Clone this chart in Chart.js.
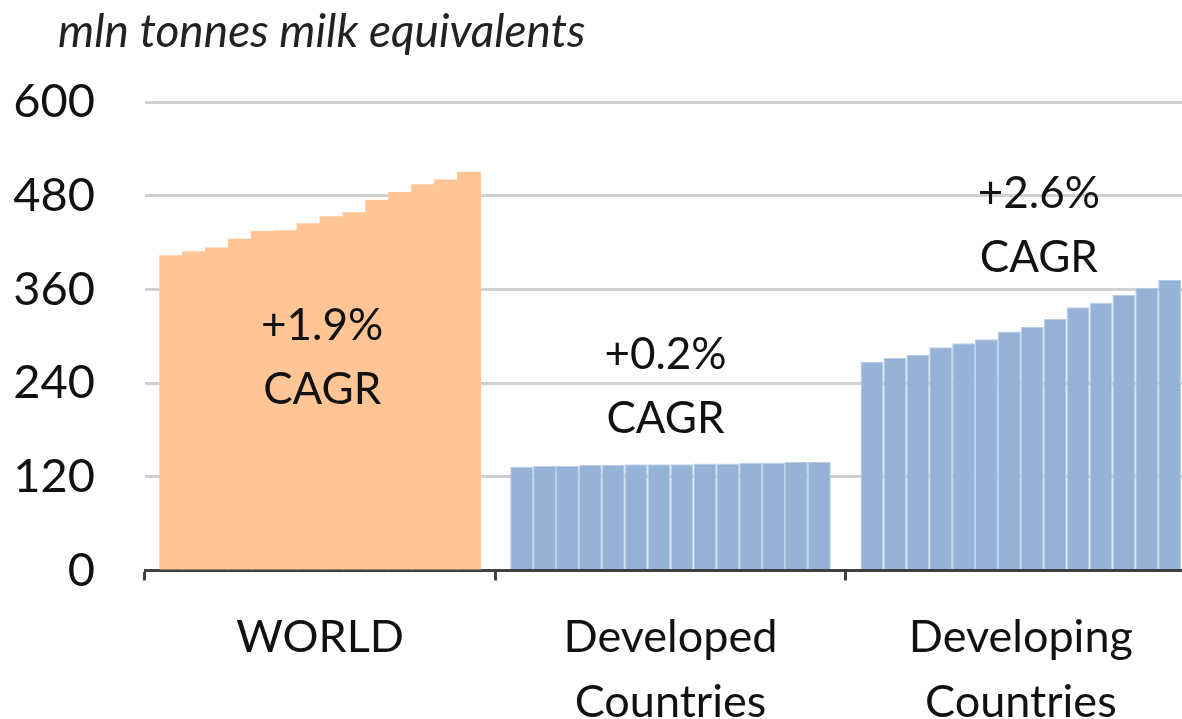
<!DOCTYPE html>
<html>
<head>
<meta charset="utf-8">
<script src="https://cdn.jsdelivr.net/npm/chart.js@4"></script>
<style>
  html, body { margin: 0; padding: 0; background: #fff; overflow: hidden; }
  #wrap { width: 1182px; height: 719px; overflow: hidden; position: relative; }
  #box { width: 1196px; height: 759px; }
</style>
</head>
<body>
<div id="wrap"><div id="box"><canvas id="milkChart"></canvas></div></div>
<script>
// groups on the x axis
const groups = ["WORLD", ["Developed", "Countries"], ["Developing", "Countries"]];
// one bar per year inside each group
const years = ["2014", "2015", "2016", "2017", "2018", "2019", "2020", "2021", "2022", "2023", "2024", "2025", "2026", "2027"];
const world = [403, 408, 413, 424, 434, 435, 444, 453, 458, 474, 484, 494, 500, 510];
const developed = [133, 134, 134, 135, 135, 136, 136, 136, 137, 137, 138, 138, 139, 139];
const developing = [267, 272, 276, 286, 291, 296, 306, 312, 322, 337, 343, 353, 362, 372];
const yTicks = [0, 120, 240, 360, 480, 600];
const cagrText = ["+1.9%", "+0.2%", "+2.6%"];

const FONT = "Lato, 'Open Sans', sans-serif";

// growth labels, placed with the y scale
const cagrPlugin = {
  id: "cagr",
  afterDatasetsDraw(chart, args, opts) {
    const c = chart.ctx;
    const xs = chart.scales.x, ys = chart.scales.y;
    c.save();
    c.font = "44px " + FONT;
    c.fillStyle = "#111";
    c.textAlign = "center";
    c.textBaseline = "middle";
    cagrText.forEach(function (t, i) {
      const x = xs.getPixelForValue(i) + opts.dx[i];
      c.fillText(t, x, ys.getPixelForValue(opts.at[i]));
      c.fillText("CAGR", x, ys.getPixelForValue(opts.at[i]) + 64);
    });
    c.restore();
  },
};

// unit caption top left
const unitPlugin = {
  id: "unit",
  afterDraw(chart) {
    const c = chart.ctx;
    c.save();
    c.font = "italic 46px " + FONT;
    c.fillStyle = "#222";
    c.textBaseline = "alphabetic";
    c.fillText("mln tonnes milk equivalents", 58, 47);
    c.restore();
  },
};

const datasets = years.map(function (y, i) {
  return {
    label: y,
    data: [world[i], developed[i], developing[i]],
    backgroundColor: ["#FFC594", "#95B3D7", "#95B3D7"],
    borderColor: ["#FFC594", "#B8CDE6", "#B8CDE6"],
    borderWidth: function (c) {
      return c.dataIndex === 0 ? 0 : { left: 1, right: 1, top: 1, bottom: 0 };
    },
    borderSkipped: false,
    inflateAmount: function (c) { return c.dataIndex === 0 ? 0.6 : 0; },
    categoryPercentage: 0.915,
    barPercentage: 1.0,
  };
});

const ctx = document.querySelector("#milkChart").getContext("2d");
const myChart = new Chart(ctx, {
  type: "bar",
  data: { labels: groups, datasets: datasets },
  plugins: [cagrPlugin, unitPlugin],
  options: {
    responsive: true,
    maintainAspectRatio: false,
    animation: false,
    layout: { padding: { top: 102, left: 10, right: 0, bottom: 0 } },
    plugins: {
      legend: { display: false },
      tooltip: { enabled: false },
      cagr: { at: [314, 276, 482], dx: [2, -5, 18] },
    },
    scales: {
      x: {
        offset: true,
        grid: {
          display: true,
          offset: true,
          drawOnChartArea: false,
          drawTicks: true,
          tickLength: 10,
          tickWidth: 3,
          tickColor: "#404040",
        },
        border: { display: true, color: "#404040", width: 3 },
        ticks: {
          color: "#111",
          font: { family: FONT, size: 45, lineHeight: 1.45 },
          padding: 24,
          maxRotation: 0,
          autoSkip: false,
        },
      },
      y: {
        min: 0,
        max: 600,
        afterBuildTicks: function (axis) {
          axis.ticks = yTicks.map(function (v) { return { value: v }; });
        },
        afterFit: function (axis) {
          axis.width = 135;
        },
        grid: { color: "#D0D0D0", lineWidth: 3, drawTicks: false },
        border: { display: false },
        ticks: {
          color: "#111",
          font: { family: FONT, size: 47 },
          padding: 50,
        },
      },
    },
  },
});
</script>
</body>
</html>
